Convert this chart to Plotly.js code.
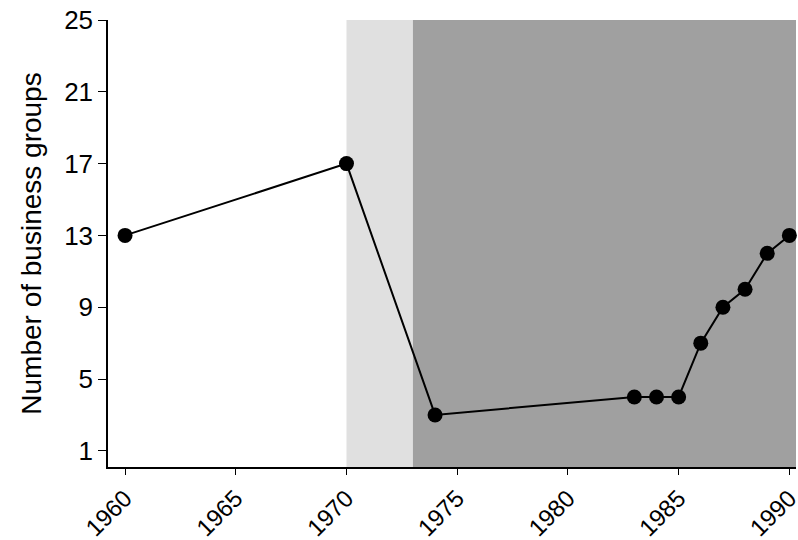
<!DOCTYPE html>
<html><head><script src="https://cdn.plot.ly/plotly-3.0.1.min.js"></script></head>
<body style="margin:0"><div id="c" style="width:798px;height:540px"></div>
<script>
const years = [1960,1970,1974,1983,1984,1985,1986,1987,1988,1989,1990];
const groups = [13,17,3,4,4,4,7,9,10,12,13];
const xTicks = [1960,1965,1970,1975,1980,1985,1990];
const yTicks = [1,5,9,13,17,21,25];
const tf = {family:'Liberation Sans, Arial',size:26,color:'black'};
const xf = {family:'Liberation Sans, Arial',size:24,color:'black'};
Plotly.newPlot('c',[{x:years,y:groups,mode:'lines+markers',line:{color:'black',width:2},marker:{color:'black',size:15},cliponaxis:false}],{
 width:798,height:540,margin:{l:108,r:2,t:20,b:73},
 paper_bgcolor:'white',plot_bgcolor:'white',showlegend:false,
 font:tf,
 shapes:[
  {type:'rect',xref:'x',yref:'paper',x0:1970,x1:1973,y0:0,y1:1,fillcolor:'#e0e0e0',line:{width:0},layer:'below'},
  {type:'rect',xref:'x',yref:'paper',x0:1973,x1:1990.3,y0:0,y1:1,fillcolor:'#a0a0a0',line:{width:0},layer:'below'}],
 xaxis:{range:[1959.23,1990.3],tickvals:xTicks,ticktext:xTicks.map(String),tickangle:-45,tickfont:xf,ticklabeloverflow:'allow',automargin:false,showgrid:false,zeroline:false,showline:true,linecolor:'black',linewidth:1.5,ticks:'outside',ticklen:6,tickcolor:'black'},
 yaxis:{range:[0.1,25],tickvals:yTicks,tickfont:tf,ticklabeloverflow:'allow',automargin:false,showgrid:false,zeroline:false,showline:true,linecolor:'black',linewidth:1.5,ticks:'outside',ticklen:8,tickcolor:'black',title:{text:'Number of business groups',font:{family:'Liberation Sans, Arial',size:28,color:'black'},standoff:14}}
},{displayModeBar:false});
</script></body></html>
